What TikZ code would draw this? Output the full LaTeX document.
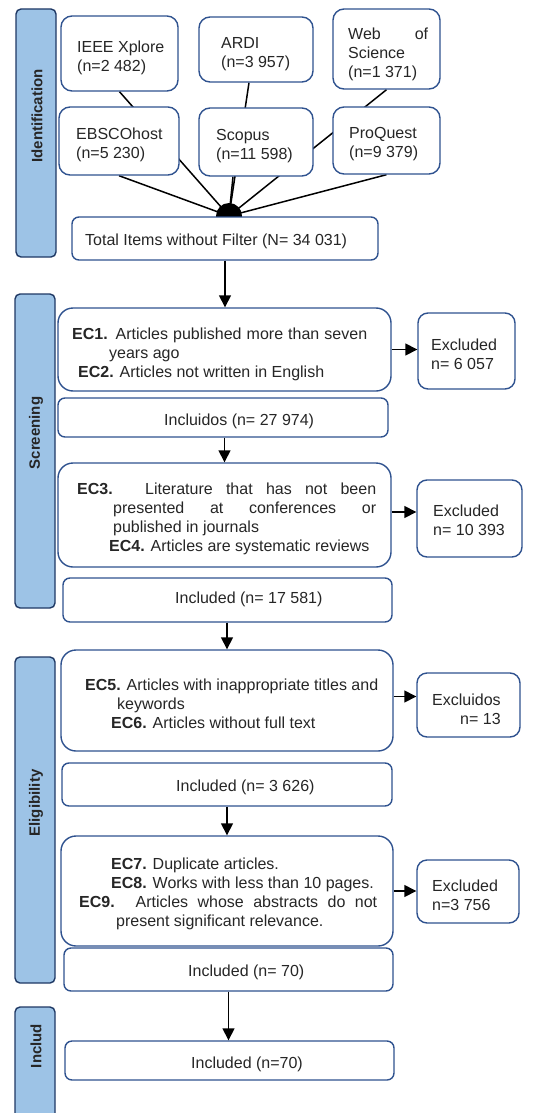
\documentclass[tikz,border=0pt]{standalone}
\usepackage{fontspec}
\setmainfont{Liberation Sans}
\usepackage{tikz}
\usetikzlibrary{arrows.meta,backgrounds}
\definecolor{boxline}{RGB}{47,82,143}
\definecolor{barline}{RGB}{31,56,100}
\definecolor{barfill}{RGB}{157,195,230}
\definecolor{textcol}{RGB}{38,38,38}

\begin{document}
\begin{tikzpicture}[x=1pt, y=-1pt]
    \tikzstyle{stagebar} = [draw=barline, fill=barfill, line width=1.4pt, rounded corners=5pt, minimum width=40pt, inner sep=0pt]
    \tikzstyle{stagelbl} = [rotate=90, inner sep=0pt, text=textcol, font=\bfseries\fontsize{15}{18}\selectfont]
    \tikzstyle{srcbox} = [draw=boxline, fill=white, line width=1.4pt, rounded corners=11pt, inner sep=0pt]
    \tikzstyle{critbox} = [draw=boxline, fill=white, line width=1.4pt, rounded corners=15pt, minimum width=333pt, inner sep=0pt]
    \tikzstyle{inclbox} = [draw=boxline, fill=white, line width=1.4pt, rounded corners=7pt, minimum width=330pt, inner sep=0pt]
    \tikzstyle{exclbox} = [draw=boxline, fill=white, line width=1.4pt, rounded corners=10pt, inner sep=0pt]
    \tikzstyle{txt} = [anchor=west, inner sep=0pt, align=left, text=textcol, font=\fontsize{16}{19}\selectfont]
    \tikzstyle{arr} = [-{Triangle[length=12pt,width=12pt]}, line width=1.5pt]
    \tikzstyle{link} = [line width=1.5pt]

    \useasboundingbox (0,0) rectangle (534,1113);

    % Stage bars
    \node[stagebar, minimum height=248pt] (identbar) at (36,133) {};
    \node[stagebar, minimum height=314pt] (screenbar) at (35,451) {};
    \node[stagebar, minimum height=326pt] (eligbar) at (35,820) {};
    \node[stagebar, minimum height=124pt] (inclbar) at (35,1069) {};
    \node[stagelbl] (identlbl) at (37,116) {Identification};
    \node[stagelbl] (screenlbl) at (36,433) {Screening};
    \node[stagelbl] (eliglbl) at (36,803) {Eligibility};
    \node[stagelbl] (incllbl) at (36,1046) {Includ};

    % Databases
    \node[srcbox, minimum width=117pt, minimum height=75pt] (ieee) at (119.5,53.5) {};
    \node[srcbox, minimum width=114pt, minimum height=65pt] (ardi) at (256,49.5) {};
    \node[srcbox, minimum width=107pt, minimum height=80pt] (wos) at (386.5,49) {};
    \node[srcbox, minimum width=120pt, minimum height=68pt] (ebsco) at (119,141) {};
    \node[srcbox, minimum width=114pt, minimum height=68pt] (scopus) at (256,142) {};
    \node[srcbox, minimum width=107pt, minimum height=67pt] (proquest) at (386.5,140.5) {};
    \node[txt] (ieeetxt) at (77,58) {IEEE Xplore\\(n=2 482)};
    \node[txt] (arditxt) at (221,54) {ARDI\\(n=3 957)};
    \node[txt] (wostxt) at (348,54) {\makebox[80pt][s]{Web of}\\Science\\(n=1 371)};
    \node[txt] (ebscotxt) at (76,144.5) {EBSCOhost\\(n=5 230)};
    \node[txt] (scopustxt) at (216,146) {Scopus\\(n=11 598)};
    \node[txt] (proquesttxt) at (349,144.5) {ProQuest\\(n=9 379)};

    % Total
    \coordinate (hub) at (229,216);
    \node[inclbox, minimum width=306pt, minimum height=43pt] (total) at (225,238.5) {};
    \node[txt] (totaltxt) at (85,241) {Total Items without Filter (N= 34 031)};

    \begin{pgfonlayer}{background}
        \fill (hub) circle (13pt);
        \foreach \src in {ieee, wos, ebsco, proquest}
            \draw[link] (\src.south) -- (hub);
        \draw[link] ([xshift=-7pt]ardi.south) -- (hub);
        \draw[link] ([xshift=-23pt]scopus.south) -- (hub);
    \end{pgfonlayer}

    % Screening
    \node[critbox, minimum height=83pt] (ec1) at (224.5,349.5) {};
    \node[exclbox, minimum width=97pt, minimum height=76pt] (exc1) at (466.5,351) {};
    \node[inclbox, minimum height=39pt] (incl1) at (223,417.5) {};
    \node[critbox, minimum height=104pt] (ec3) at (224.5,515) {};
    \node[exclbox, minimum width=105pt, minimum height=77pt] (exc2) at (469.5,518.5) {};
    \node[inclbox, minimum width=329pt, minimum height=44pt] (incl2) at (227.5,600) {};

    \node[txt] (ec1txt) at (72,354) {\makebox[295pt][s]{\textbf{EC1.} Articles published more than seven}\\
        \hspace*{37pt}years ago\\
        \hspace*{6pt}\textbf{EC2.} Articles not written in English};
    \node[txt] (exc1txt) at (431,354) {Excluded\\n= 6 057};
    \node[txt] (incl1txt) at (164,421) {Incluidos (n= 27 974)};
    \node[txt] (ec3txt) at (77,519) {\makebox[299pt][s]{\textbf{EC3.} Literature that has not been}\\
        \hspace*{36pt}\makebox[263pt][s]{presented at conferences or}\\
        \hspace*{36pt}published in journals\\
        \hspace*{32pt}\textbf{EC4.} Articles are systematic reviews};
    \node[txt] (exc2txt) at (433,520) {Excluded\\n= 10 393};
    \node[txt] (incl2txt) at (175,599) {Included (n= 17 581)};

    % Eligibility
    \node[critbox, minimum width=332pt, minimum height=101pt] (ec5) at (227,700.5) {};
    \node[exclbox, minimum width=103pt, minimum height=64pt] (exc3) at (468.5,705) {};
    \node[inclbox, minimum height=43pt] (incl3) at (227,784.5) {};
    \node[critbox, minimum width=332pt, minimum height=110pt] (ec7) at (227,891) {};
    \node[exclbox, minimum width=102pt, minimum height=63pt] (exc4) at (468,891.5) {};
    \node[inclbox, minimum width=329pt, minimum height=43pt] (incl4) at (228.5,969.5) {};

    \node[txt] (ec5txt) at (85,704) {\makebox[293pt][s]{\textbf{EC5.} Articles with inappropriate titles and}\\
        \hspace*{32pt}keywords\\
        \hspace*{26pt}\textbf{EC6.} Articles without full text};
    \node[txt, align=right] (exc3txt) at (432,709) {Excluidos\\n= 13};
    \node[txt] (incl3txt) at (176,787) {Included (n= 3 626)};
    \node[txt] (ec7txt) at (79,894) {\hspace*{32pt}\textbf{EC7.} Duplicate articles.\\
        \hspace*{32pt}\textbf{EC8.} Works with less than 10 pages.\\
        \makebox[298pt][s]{\textbf{EC9.} Articles whose abstracts do not}\\
        \hspace*{37pt}present significant relevance.};
    \node[txt] (exc4txt) at (432,895) {Excluded\\n=3 756};
    \node[txt] (incl4txt) at (188,972) {Included (n= 70)};

    % Included
    \node[inclbox, minimum width=329pt, minimum height=39pt] (final) at (229.5,1060.5) {};
    \node[txt] (finaltxt) at (191,1064) {Included (n=70)};

    % Arrows
    \draw[arr] (total.south) -- (total.south |- ec1.north);
    \draw[arr] (ec3.north |- incl1.south) -- (ec3.north);
    \draw[arr] (ec5.north |- incl2.south) -- (ec5.north);
    \draw[arr] (ec7.north |- incl3.south) -- (ec7.north);
    \draw[arr] (incl4.south) -- (incl4.south |- final.north);
    \draw[arr] (ec1.east) -- (ec1.east -| exc1.west);
    \draw[arr] ([yshift=3pt]ec3.east) -- ([yshift=3pt]ec3.east -| exc2.west);
    \draw[arr] ([yshift=4pt]ec5.east) -- ([yshift=4pt]ec5.east -| exc3.west);
    \draw[arr] (ec7.east) -- (ec7.east -| exc4.west);

\end{tikzpicture}
\end{document}
